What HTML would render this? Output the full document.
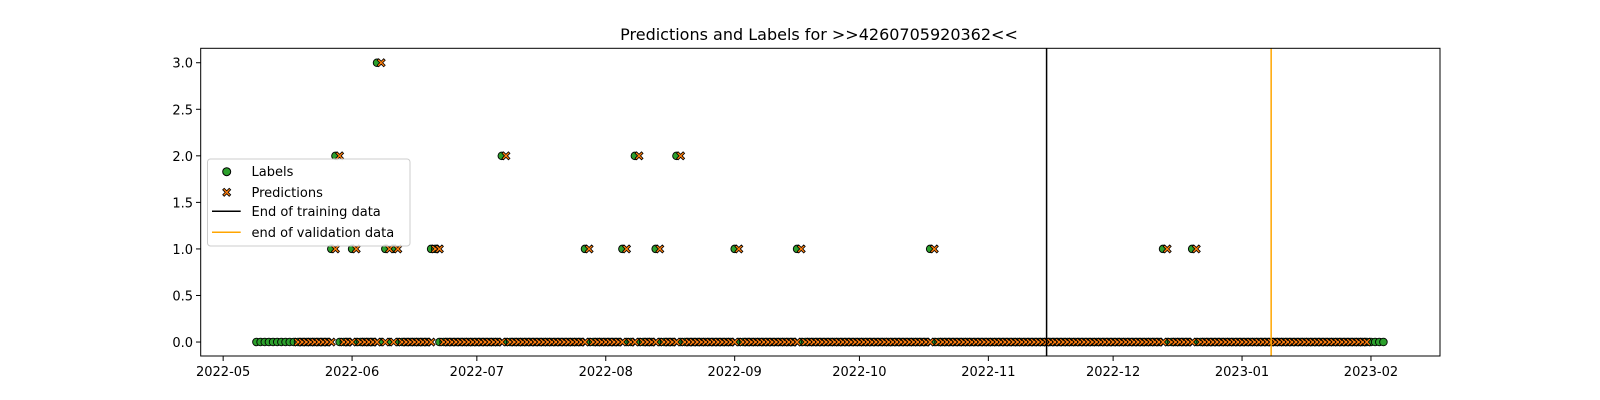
<!DOCTYPE html>
<html><head><meta charset="utf-8"><style>
body{margin:0;background:#fff;}
svg{display:block;font-family:"DejaVu Sans","Liberation Sans",sans-serif;}
</style></head><body>
<svg id="chart" width="1600" height="400" viewBox="0 0 1600 400">
<text x="819" y="40" font-size="16" text-anchor="middle">Predictions and Labels for &gt;&gt;4260705920362&lt;&lt;</text>
<g id="axes"></g>
<g id="marks"></g>
<rect x="200.7" y="48.3" width="1239.3" height="307.7" fill="none" stroke="#000" stroke-width="1"/>
<g id="legend">
<rect x="207.5" y="159" width="202.5" height="87" rx="3" fill="#fff" fill-opacity="0.8" stroke="#ccc"/>
<circle cx="226.7" cy="171.7" r="4" fill="#2ca02c" stroke="#000" stroke-width="1"/>
<text x="251.5" y="176" font-size="13">Labels</text>
<path d="M-4,-2.5L-1.5,0L-4,2.5L-2.5,4L0,1.5L2.5,4L4,2.5L1.5,0L4,-2.5L2.5,-4L0,-1.5L-2.5,-4Z" transform="translate(226.7,192.3)" fill="#ff7f0e" stroke="#000" stroke-width="0.8"/>
<text x="251.5" y="197" font-size="13">Predictions</text>
<line x1="212" y1="211.3" x2="240.7" y2="211.3" stroke="#000" stroke-width="1.5"/>
<text x="251.5" y="216" font-size="13">End of training data</text>
<line x1="212" y1="232.3" x2="240.7" y2="232.3" stroke="orange" stroke-width="1.5"/>
<text x="251.5" y="237" font-size="13">end of validation data</text>
</g>
</svg>
<script>
// day offsets from 2022-05-01
const labelStartDay = 8;
const labelEndDay = 279;
const predStartDay = 18;
const predEndDay = 275;
const onesDays = [26,31,39,41,50,51,87,96,104,123,138,170,226,233];
const twosDays = [27,67,99,109];
const threesDays = [37];
const trainEndDay = 198;
const validEndDay = 252;
const xTickLabels = ["2022-05","2022-06","2022-07","2022-08","2022-09","2022-10","2022-11","2022-12","2023-01","2023-02"];
const xTickDays = [0,31,61,92,123,153,184,214,245,276];
const yTicks = [0,0.5,1,1.5,2,2.5,3];

const NS="http://www.w3.org/2000/svg";
const X0=200.7,X1=1440,Y0=356,Y1=48.3;
const dMin=-5.4,dMax=292.6,vMin=-0.150,vMax=3.155;
const xs=d=>X0+(d-dMin)/(dMax-dMin)*(X1-X0);
const ys=v=>Y0-(v-vMin)/(vMax-vMin)*(Y0-Y1);
function mk(tag,attrs,parent){const e=document.createElementNS(NS,tag);for(const k in attrs)e.setAttribute(k,attrs[k]);parent.appendChild(e);return e;}
const axes=document.getElementById('axes'),marks=document.getElementById('marks');
xTickDays.forEach((d,i)=>{
  const x=xs(d);
  const t=mk('line',{x1:x,x2:x,y1:356,y2:361,stroke:'#000'},axes);
  
  
  const l=mk('text',{x:x,y:376,'font-size':13,'text-anchor':'middle'},axes);
  l.textContent=xTickLabels[i];
  
  
});
yTicks.forEach(v=>{
  const y=ys(v);
  const t=mk('line',{x1:196,x2:200.7,y1:y,y2:y,stroke:'#000'},axes);
  
  
  const l=mk('text',{x:193,y:y+5,'font-size':13,'text-anchor':'end'},axes);
  l.textContent=v.toFixed(1);
  
  
});
function labelVal(d){if(threesDays.includes(d))return 3;if(twosDays.includes(d))return 2;if(onesDays.includes(d))return 1;return 0;}
for(let d=labelStartDay;d<=labelEndDay;d++){
  const c=mk('circle',{cx:xs(d),cy:ys(labelVal(d)),r:3.8,fill:'#2ca02c',stroke:'#000','stroke-width':0.9},marks);
  
  
}
const xp="M-4,-2.5L-1.5,0L-4,2.5L-2.5,4L0,1.5L2.5,4L4,2.5L1.5,0L4,-2.5L2.5,-4L0,-1.5L-2.5,-4Z";
for(let d=predStartDay;d<=predEndDay;d++){
  const p=mk('path',{d:xp,transform:`translate(${xs(d)},${ys(labelVal(d-1))})`,fill:'#ff7f0e',stroke:'#000','stroke-width':0.8},marks);
  
  
}
const tl=mk('line',{x1:xs(trainEndDay),x2:xs(trainEndDay),y1:48.3,y2:356,stroke:'#000','stroke-width':1.5},marks);


const vl=mk('line',{x1:xs(validEndDay),x2:xs(validEndDay),y1:48.3,y2:356,stroke:'orange','stroke-width':1.5},marks);


</script>
</body></html>
